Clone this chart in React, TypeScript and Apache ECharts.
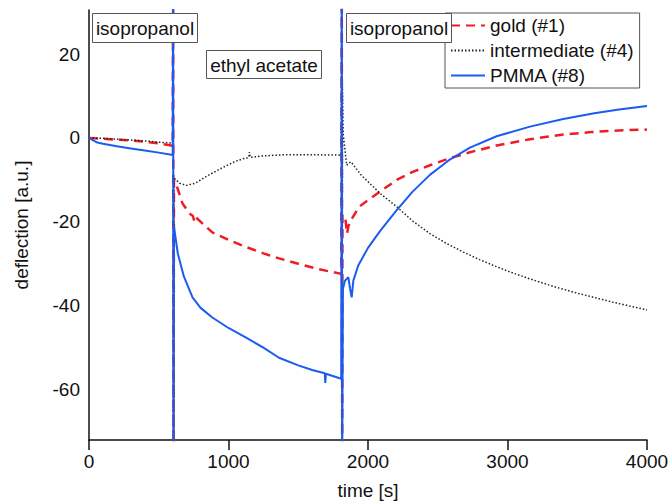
import React, { useEffect, useRef } from "react";
import * as echarts from "echarts";

const xTicks = [0, 1000, 2000, 3000, 4000];
const yTicks = [-60, -40, -20, 0, 20];

const seriesNames = ["gold (#1)", "intermediate (#4)", "PMMA (#8)"];

const goldData: [number, number][] = [
  [0, 0], [100, -0.2], [200, -0.4], [300, -0.6], [400, -0.9], [500, -1.3], [590, -1.8],
  [600, -2], [603, 40], [606, -80], [609, -10], [620, -10.5], [670, -15.6], [720, -18],
  [745, -18.6], [756, -20], [768, -19], [884, -22.5], [1000, -24.3], [1126, -26],
  [1250, -27.5], [1362, -28.7], [1500, -30], [1650, -31.3], [1808, -32.4],
  [1812, 40], [1815, -80], [1817, -18.4], [1835, -18.4], [1850, -22.8], [1860, -21],
  [1878, -19.6], [1937, -16.4], [2000, -14.8], [2086, -12.8], [2206, -10], [2320, -8.1],
  [2444, -6.5], [2580, -4.9], [2731, -3.4], [2922, -1.8], [3161, -0.3], [3400, 0.8],
  [3600, 1.4], [3800, 1.8], [4000, 2],
];

const intermediateData: [number, number][] = [
  [0, 0], [100, -0.1], [200, -0.3], [300, -0.5], [400, -0.7], [500, -1], [590, -1.2],
  [600, -1.3], [603, 40], [606, -80], [609, -9.5], [650, -10.8], [700, -11.3],
  [760, -10.8], [850, -9], [950, -7.2], [1041, -5.7], [1100, -5], [1145, -4.7],
  [1150, -3.4], [1155, -4.6], [1241, -4.3], [1400, -4], [1600, -4], [1808, -4.1],
  [1812, 40], [1815, -80], [1817, 12], [1822, 1.1], [1847, -6.5], [1862, -6],
  [1878, -5.7], [1950, -8.8], [2086, -13.2], [2206, -16.4], [2320, -19.8], [2444, -22.8],
  [2560, -25.1], [2683, -27.2], [2800, -29], [2922, -30.7], [3040, -32.2],
  [3161, -33.6], [3330, -35.4], [3500, -37], [3750, -39.1], [4000, -41],
];

const pmmaData: [number, number][] = [
  [0, 0], [30, -0.6], [60, -1.1], [100, -1.4], [200, -2], [300, -2.5], [400, -3],
  [500, -3.5], [590, -4], [600, -4.1], [603, 40], [606, -80], [609, -21], [615, -22.5],
  [637, -27.6], [680, -33], [742, -38], [800, -40.5], [884, -42.8], [1000, -45.3],
  [1126, -47.6], [1250, -50], [1362, -52.4], [1500, -54.2], [1600, -55.3], [1690, -56.1],
  [1694, -58.4], [1698, -56.2], [1808, -57.4], [1812, 40], [1815, -80], [1820, -36],
  [1835, -34], [1859, -33.2], [1872, -36], [1883, -38], [1895, -34], [1930, -30.4],
  [2000, -26.2], [2086, -22.2], [2206, -17.2], [2320, -12.8], [2444, -8.8],
  [2580, -5.3], [2731, -2.3], [2922, 0.4], [3161, 2.7], [3400, 4.5], [3622, 5.9],
  [3800, 6.8], [4000, 7.6],
];

const annotations = [
  { text: "isopropanol", x: 92, y: 13, w: 105, h: 29 },
  { text: "ethyl acetate", x: 206, y: 50, w: 115, h: 28 },
  { text: "isopropanol", x: 346, y: 13, w: 105, h: 29 },
];

const FONT = "Liberation Sans, Arial, sans-serif";

export default function App() {
  const ref = useRef<HTMLDivElement>(null);
  useEffect(() => {
    if (!ref.current) return;
    const chart = echarts.init(ref.current, null, { renderer: "svg" });
    const graphics: any[] = [];
    annotations.forEach((a) => {
      graphics.push({
        type: "rect",
        z: 100,
        shape: { x: a.x + 0.5, y: a.y + 0.5, width: a.w, height: a.h },
        style: { fill: "#fff", stroke: "#555", lineWidth: 1 },
      });
      graphics.push({
        type: "text",
        z: 101,
        x: a.x + a.w / 2 + 0.5,
        y: a.y + a.h / 2 + 1,
        style: {
          text: a.text,
          fontSize: 19,
          fontFamily: FONT,
          fill: "#111",
          align: "center",
          verticalAlign: "middle",
        },
      });
    });
    chart.setOption({
      animation: false,
      backgroundColor: "#fff",
      grid: {
        left: 89,
        right: 21,
        top: 10,
        bottom: 64,
        containLabel: false,
        outerBoundsMode: "none",
      },
      legend: {
        orient: "vertical",
        left: 445,
        top: 13,
        data: seriesNames,
        backgroundColor: "#fff",
        borderColor: "#555",
        borderWidth: 1,
        borderRadius: 0,
        padding: [3, 6, 3, 5],
        itemWidth: 34,
        itemHeight: 14,
        itemGap: 6,
        itemStyle: { color: "transparent", borderColor: "transparent", borderWidth: 0 },
        textStyle: { fontSize: 19, fontFamily: FONT, color: "#111" },
      },
      xAxis: {
        type: "value",
        min: 0,
        max: 4000,
        interval: 1000,
        name: "time [s]",
        nameLocation: "middle",
        nameGap: 41,
        nameTextStyle: { fontSize: 19, fontFamily: FONT, color: "#111" },
        axisLine: { show: true, onZero: false, lineStyle: { color: "#111", width: 1.5 } },
        axisTick: { show: true, inside: false, length: 10, lineStyle: { color: "#111", width: 1.5 } },
        axisLabel: {
          fontSize: 19,
          fontFamily: FONT,
          color: "#111",
          margin: 12,
          customValues: xTicks,
          formatter: (v: number) => String(v),
        },
        splitLine: { show: false },
      },
      yAxis: {
        type: "value",
        min: -72,
        max: 30.5,
        name: "deflection [a.u.]",
        nameLocation: "middle",
        nameGap: 58,
        nameTextStyle: { fontSize: 19, fontFamily: FONT, color: "#111" },
        axisLine: { show: true, onZero: false, lineStyle: { color: "#111", width: 1.5 } },
        axisTick: { show: false },
        axisLabel: {
          fontSize: 19,
          fontFamily: FONT,
          color: "#111",
          margin: 9,
          customValues: yTicks,
          formatter: (v: number) => String(v),
        },
        splitLine: { show: false },
      },
      series: [
        {
          name: seriesNames[0],
          type: "line",
          data: goldData,
          symbol: "none",
          clip: true,
          z: 3,
          lineStyle: { color: "#ee1d23", width: 2.5, type: [9, 6] },
          itemStyle: { color: "#ee1d23" },
        },
        {
          name: seriesNames[1],
          type: "line",
          data: intermediateData,
          symbol: "none",
          clip: true,
          z: 4,
          lineStyle: { color: "#222", width: 1.5, type: [1.5, 2] },
          itemStyle: { color: "#222" },
        },
        {
          name: seriesNames[2],
          type: "line",
          data: pmmaData,
          symbol: "none",
          clip: true,
          z: 5,
          lineStyle: { color: "#1b5cf0", width: 2 },
          itemStyle: { color: "#1b5cf0" },
        },
      ],
      graphic: graphics,
    });
    return () => chart.dispose();
  }, []);
  return (
    <div
      ref={ref}
      style={{ position: "absolute", left: 0, top: 0, width: 668, height: 504 }}
    />
  );
}
